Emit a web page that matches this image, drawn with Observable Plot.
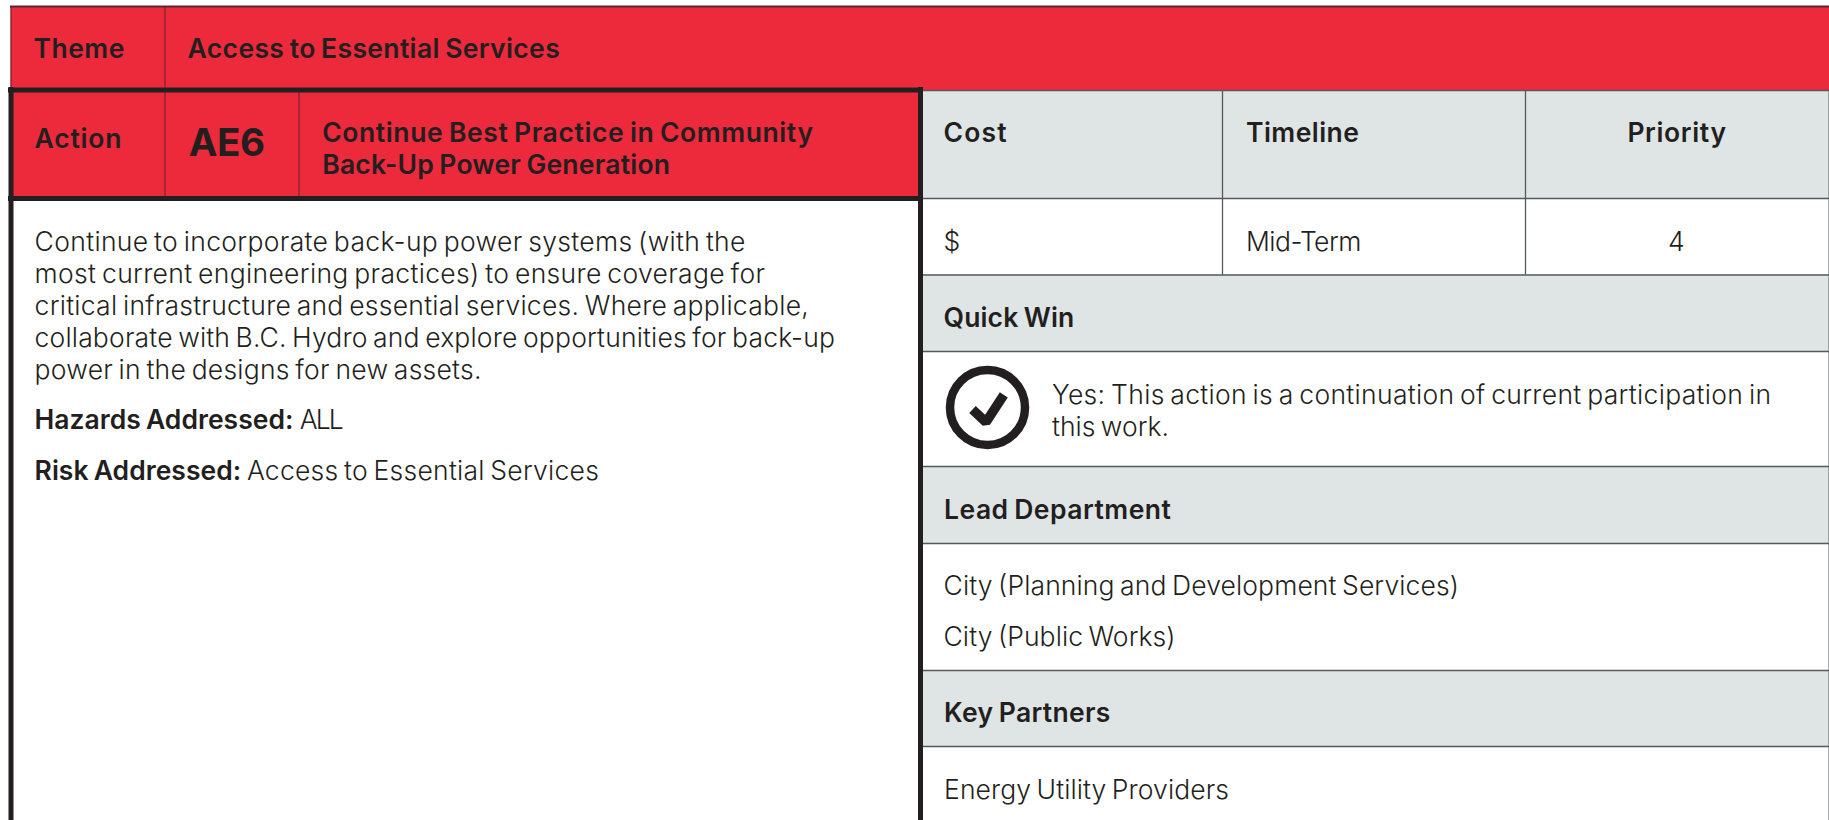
<!DOCTYPE html>
<html><head><meta charset="utf-8">
<style>
html,body{margin:0;padding:0;background:#fff;overflow:hidden}
svg{display:block}
svg text{font-family:Inter,"Noto Sans",sans-serif}
.body text{word-spacing:-0.08em}
.bold text{word-spacing:-0.06em}
</style>
<script src="https://cdn.jsdelivr.net/npm/d3@7"></script>
<script src="https://cdn.jsdelivr.net/npm/@observablehq/plot@0.6"></script>
</head><body><div id="chart"></div>
<script>
// ---- content ----
const themeLabel = "Theme";
const themeValue = "Access to Essential Services";
const actionLabel = "Action";
const actionCode = "AE6";
const actionTitle = ["Continue Best Practice in Community", "Back-Up Power Generation"];
const description = [
  "Continue to incorporate back-up power systems (with the",
  "most current engineering practices) to ensure coverage for",
  "critical infrastructure and essential services. Where applicable,",
  "collaborate with B.C. Hydro and explore opportunities for back-up",
  "power in the designs for new assets."
];
const hazards = ["Hazards Addressed:", "ALL"];
const risks = ["Risk Addressed:", "Access to Essential Services"];
const columnHeads = ["Cost", "Timeline", "Priority"];
const columnValues = ["$", "Mid-Term", "4"];
const sectionHeads = ["Quick Win", "Lead Department", "Key Partners"];
const quickWin = ["Yes: This action is a continuation of current participation in", "this work."];
const leads = ["City (Planning and Development Services)", "City (Public Works)"];
const partners = ["Energy Utility Providers"];

// ---- layout ----
const W = 1829, H = 820;
const RED = "#ec2a3c", GREY = "#dfe5e5", INK = "#231f20", RULE = "#55595a", REDRULE = "#5a2730";
const col = [922, 1222, 1525, 1829];
const row = [90, 198, 274.5, 351, 466, 543, 670, 746, 820];
const redBlocks = [{x1:10.5,x2:1829,y1:6,y2:90},{x1:10.5,x2:920,y1:90,y2:198}];
const greyBlocks = [[0,1],[2,3],[4,5],[6,7]].map(([a,b]) => ({x1:col[0],x2:W,y1:row[a],y2:row[b]}));
const rowRules = row.slice(0,8).map(y => ({x1:col[0],x2:W,y:y}));
const colRules = [col[1],col[2]].map(x => ({x,y1:row[0],y2:row[2]}));
const redRules = [{x:164.5,y1:6,y2:198},{x:298.5,y1:90,y2:198}];

// a line of text placed by its ink start, ink end and baseline
const t = (text,start,end,y) => ({text,x:start-1.5,y,w:end-start+2});
const lineY = [250,282,314.5,346,378];
const lineEnd = [744.4,764,807.8,834,480.4];
const bodyT = [
  ...description.map((s,i)=>t(s,35.6,lineEnd[i],lineY[i])),
  t(columnValues[0],944.5,959.3,250), t(columnValues[1],1247,1360.3,250), t(columnValues[2],1669,1683,250),
  t(quickWin[0],1053,1770,403), t(quickWin[1],1053,1168,435),
  t(leads[0],944.5,1458,594), t(leads[1],944.5,1174.6,645.5),
  t(partners[0],945,1228,798.5),
  t(hazards[1],300.7,342.8,428), t(risks[1],247.9,597.9,479.3)
];
const boldT = [
  t(themeLabel,34.4,123.4,57), t(themeValue,188.6,558.7,57), t(actionLabel,35.6,120.4,147),
  t(actionTitle[0],323.2,812,141), t(actionTitle[1],323.2,669,173.5),
  t(hazards[0],35.6,292.4,428), t(risks[0],35.6,240.2,479.3),
  t(columnHeads[0],944.5,1005.6,141.5), t(columnHeads[1],1247,1357.9,141.5), t(columnHeads[2],1628.4,1725,141.5),
  t(sectionHeads[0],944.5,1073.2,326.5), t(sectionHeads[1],945,1169.9,518), t(sectionHeads[2],945,1109.4,721.5)
];
const codeT = [t(actionCode,189.8,264,155)];
const tick = [{x:972,y:409},{x:985.5,y:421.7},{x:1003.3,y:394.3}];

const text = (data,o) => Plot.text(data,{x:"x",y:"y",text:"text",fill:INK,textAnchor:"start",lineAnchor:"bottom",...o,
  render(index,scales,values,dims,ctx,next){
    const g = next(index,scales,values,dims,ctx);
    d3.select(g).selectAll("text").attr("textLength",i=>data[i].w).attr("lengthAdjust","spacing");
    return g;
  }});

const plot = Plot.plot({
  width:W,height:H,margin:0,
  style:{background:"#fff"},
  x:{domain:[0,W],range:[0,W],axis:null},
  y:{domain:[0,H],range:[0,H],axis:null},
  marks:[
    Plot.rect(redBlocks,{x1:"x1",x2:"x2",y1:"y1",y2:"y2",fill:RED}),
    Plot.rect(greyBlocks,{x1:"x1",x2:"x2",y1:"y1",y2:"y2",fill:GREY}),
    Plot.ruleY([6],{x1:10,x2:W,stroke:REDRULE,strokeWidth:2}),
    Plot.ruleX([10.5],{y1:6,y2:90,stroke:REDRULE,strokeWidth:1}),
    Plot.ruleX(redRules,{x:"x",y1:"y1",y2:"y2",stroke:REDRULE,strokeWidth:1}),
    Plot.ruleY(rowRules,{x1:"x1",x2:"x2",y:"y",stroke:RULE,strokeWidth:1.6}),
    Plot.ruleX(colRules,{x:"x",y1:"y1",y2:"y2",stroke:RULE,strokeWidth:1.3}),
    Plot.ruleX([1828.5],{y1:90,y2:H,stroke:RULE,strokeWidth:1}),
    Plot.ruleY([89.5,198],{x1:8,x2:922.5,stroke:INK,strokeWidth:5}),
    Plot.ruleX([10.5,920],{y1:87,y2:H,stroke:INK,strokeWidth:5}),
    Plot.dot([{x:987,y:407}],{x:"x",y:"y",r:37.5,stroke:INK,strokeWidth:8.5,fill:"none"}),
    Plot.line(tick,{x:"x",y:"y",stroke:INK,strokeWidth:9.5,strokeLinejoin:"miter",strokeLinecap:"butt",curve:"linear"}),
    text(bodyT,{fontSize:26.5,fontWeight:300,className:"body"}),
    text(boldT,{fontSize:26.5,fontWeight:600,className:"bold"}),
    text(codeT,{fontSize:38.5,fontWeight:700})
  ]
});
document.getElementById("chart").append(plot);
</script></body></html>
